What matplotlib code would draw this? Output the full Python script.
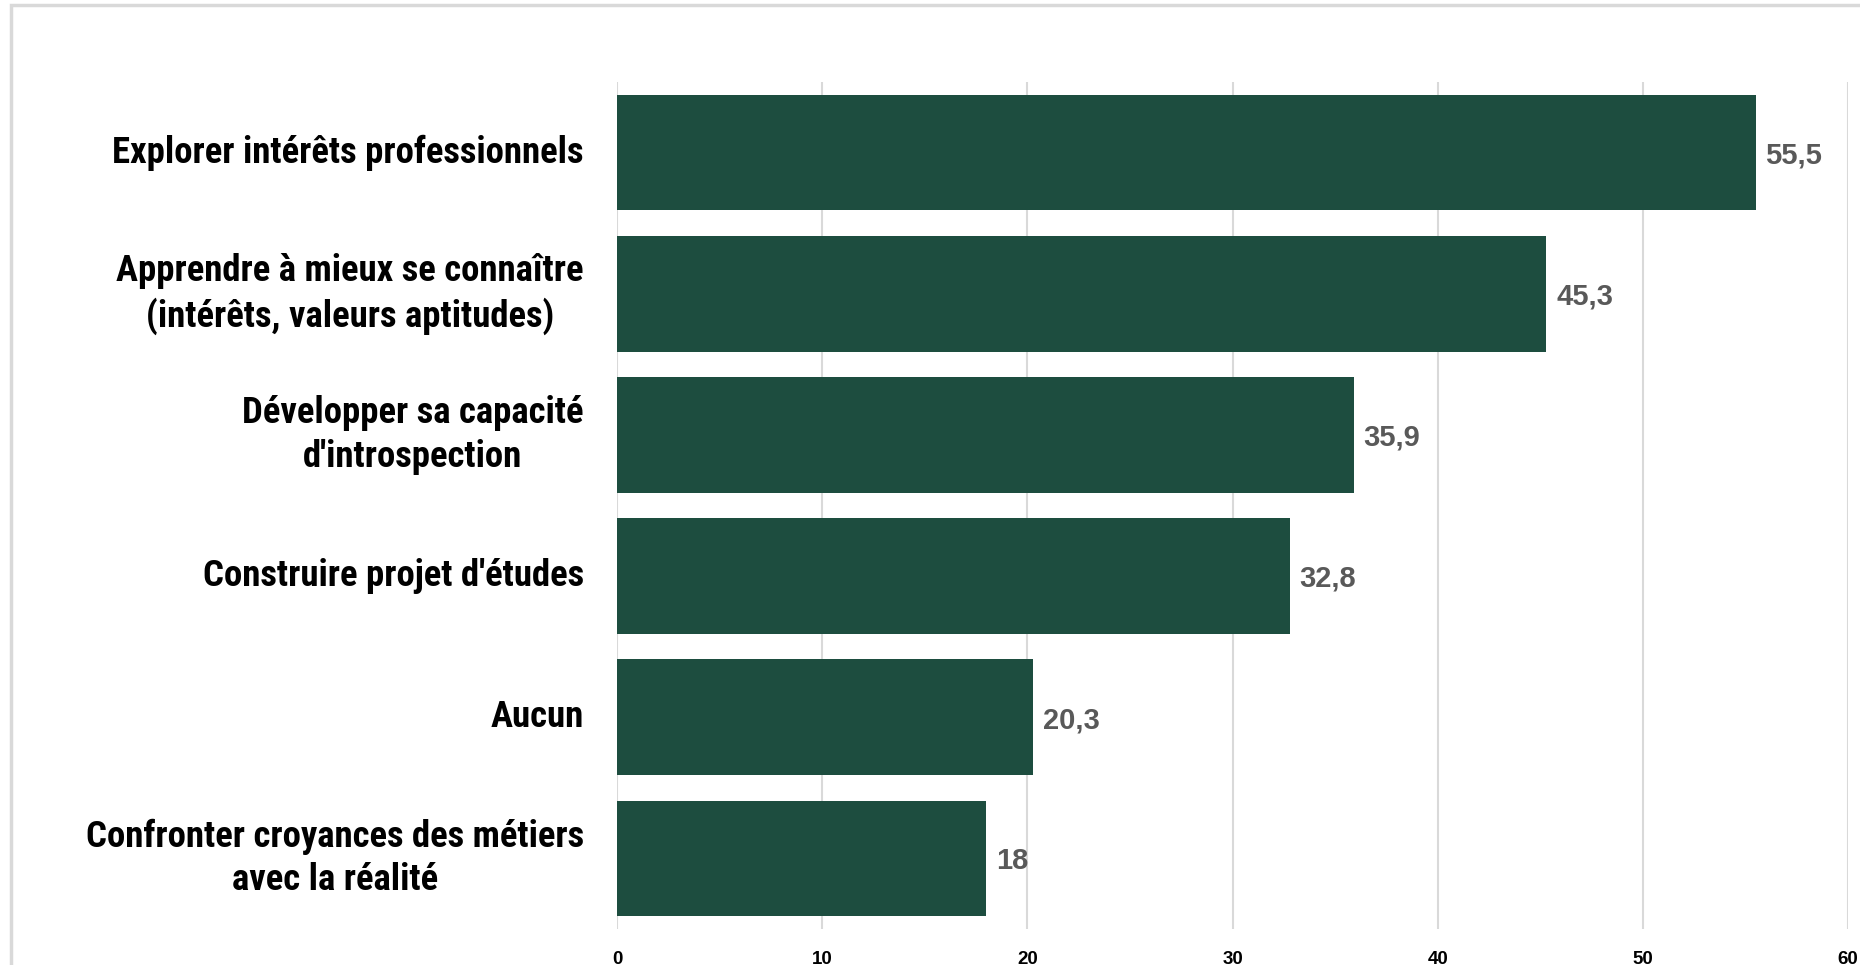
import matplotlib.pyplot as plt
from matplotlib.patches import Rectangle

# categories (top to bottom) and their percentages
categories = ["Explorer intérêts professionnels",
              "Apprendre à mieux se connaître\n(intérêts, valeurs aptitudes)",
              "Développer sa capacité\nd'introspection",
              "Construire projet d'études",
              "Aucun",
              "Confronter croyances des métiers\navec la réalité"]
values = [55.5, 45.3, 35.9, 32.8, 20.3, 18]
value_labels = ["55,5", "45,3", "35,9", "32,8", "20,3", "18"]
xticks = [0, 10, 20, 30, 40, 50, 60]

bar_color = '#1D4D3F'
grid_color = '#D9D9D9'

fig = plt.figure(figsize=(18.6, 9.65), dpi=100)
ax = fig.add_axes([617/1860, 1 - 929/965, (1848 - 617)/1860, (929 - 82)/965])

y = list(range(len(categories)))
ax.barh(y, values, height=0.82, color=bar_color, zorder=3)
ax.set_ylim(len(categories) - 0.5, -0.5)
ax.set_xlim(0, 60)

# value labels at the end of each bar
for yi, v, lab in zip(y, values, value_labels):
    ax.annotate(lab, (v, yi), xytext=(7, -2), textcoords='offset points',
                va='center', ha='left', fontsize=21, fontweight='bold',
                color='#595959', family=['Liberation Sans', 'DejaVu Sans'])

ax.set_yticks(y)
ax.set_yticklabels(categories, fontsize=26.5, fontweight='bold',
                   family=['Roboto Condensed', 'Roboto', 'DejaVu Sans'],
                   ha='right', va='center', multialignment='center',
                   linespacing=1.28)
ax.tick_params(axis='y', length=0, pad=24)

ax.set_xticks(xticks)
ax.set_xticklabels([str(t) for t in xticks], fontsize=13.5, fontweight='bold',
                   family=['Liberation Sans', 'DejaVu Sans'])
ax.tick_params(axis='x', length=0, pad=16)

ax.grid(axis='x', color=grid_color, linewidth=1.5, zorder=0)
for s in ax.spines.values():
    s.set_visible(False)

# light frame around the chart area
fig.patches.append(Rectangle((11/1860, -0.1), 1.2, 1 - 5/965 + 0.1,
                             transform=fig.transFigure, fill=False,
                             edgecolor=grid_color, linewidth=2.5))

fig.savefig('out.png', dpi=100)
